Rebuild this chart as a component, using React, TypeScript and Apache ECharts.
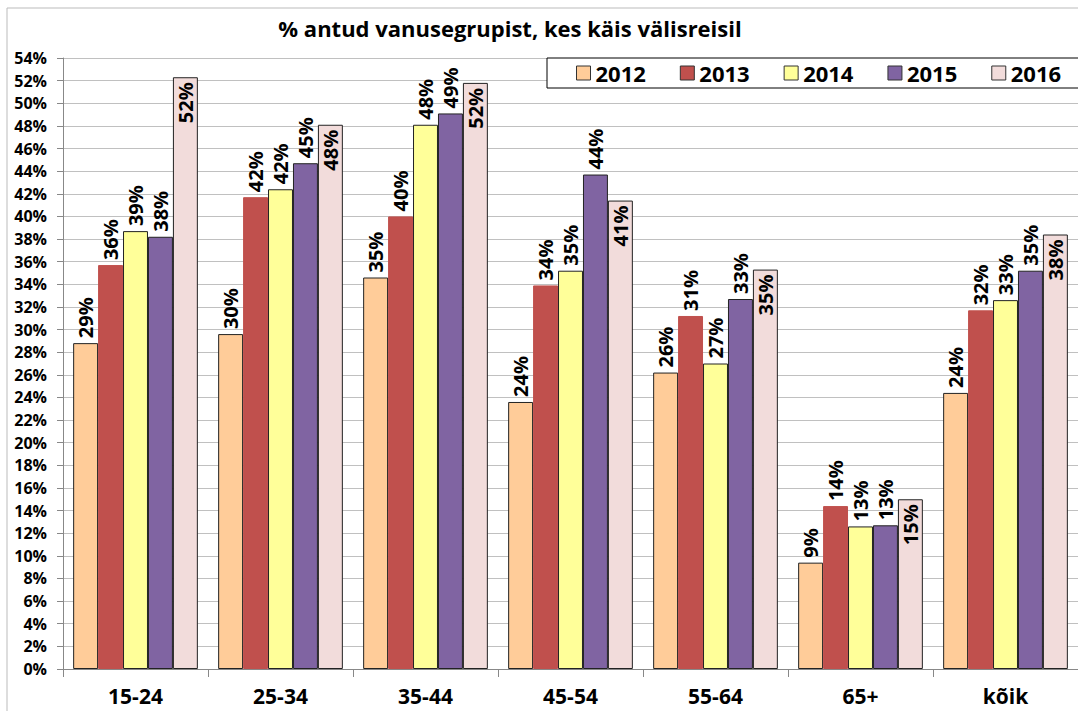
import React, { useEffect, useRef } from "react";
import * as echarts from "echarts";

const categories = ["15-24", "25-34", "35-44", "45-54", "55-64", "65+", "kõik"];
const years = ["2012", "2013", "2014", "2015", "2016"];
const v2012 = [28.8, 29.6, 34.6, 23.6, 26.2, 9.4, 24.4];
const v2013 = [35.7, 41.7, 40.0, 33.9, 31.2, 14.4, 31.7];
const v2014 = [38.7, 42.4, 48.1, 35.2, 27.0, 12.6, 32.6];
const v2015 = [38.2, 44.7, 49.1, 43.7, 32.7, 12.7, 35.2];
const v2016 = [52.3, 48.1, 51.8, 41.4, 35.3, 15.0, 38.4];
const seriesValues = [v2012, v2013, v2014, v2015, v2016];
const colors = ["#FFCC99", "#C0504D", "#FFFF99", "#8064A2", "#F2DCDB"];
const title = "% antud vanusegrupist, kes käis välisreisil";

const FONT = "'Open Sans', Lato, sans-serif";

export default function App() {
  const ref = useRef<HTMLDivElement>(null);
  useEffect(() => {
    if (!ref.current) return;
    const chart = echarts.init(ref.current, undefined, { renderer: "svg" });
    const series = years.map((y, i) => {
      const inside = i === 4;
      return {
        name: y,
        type: "bar",
        data: seriesValues[i],
        barGap: "0%",
        barCategoryGap: "14%",
        itemStyle: {
          color: colors[i],
          borderColor: i === 1 ? colors[i] : "#222",
          borderWidth: 1,
        },
        label: {
          show: true,
          position: inside ? "insideTop" : "top",
          rotate: 90,
          align: inside ? "right" : "left",
          verticalAlign: "middle",
          distance: 5,
          formatter: (p: any) => Math.round(p.value) + "%",
          color: "#000",
          fontFamily: FONT,
          fontWeight: "bold",
          fontSize: 20,
        },
      };
    });
    chart.setOption({
      animation: false,
      title: {
        text: title,
        left: 505,
        textAlign: "center",
        top: 12,
        textStyle: { fontFamily: FONT, fontWeight: "bold", fontSize: 22, color: "#000" },
      },
      legend: {
        data: years,
        left: 547,
        top: 58,
        width: 540,
        padding: [4, 22, 4, 29],
        itemGap: 34,
        itemWidth: 14,
        itemHeight: 14,
        icon: "rect",
        borderColor: "#000",
        borderWidth: 1,
        backgroundColor: "#fff",
        itemStyle: { borderColor: "#333", borderWidth: 1 },
        textStyle: { fontFamily: FONT, fontWeight: "bold", fontSize: 22, color: "#000" },
      },
      graphic: [
        {
          type: "polyline",
          shape: { points: [[7, 711], [7, 8], [1078, 8]] },
          style: { stroke: "#bbb", lineWidth: 1, fill: "none" },
          silent: true,
        },
      ],
      grid: { left: 63, top: 58, width: 1022, height: 611, containLabel: false },
      xAxis: {
        type: "category",
        data: categories,
        axisLine: { lineStyle: { color: "#888", width: 1 } },
        axisTick: { show: true, length: 8, lineStyle: { color: "#888" } },
        axisLabel: {
          margin: 16,
          color: "#000",
          fontFamily: FONT,
          fontWeight: "bold",
          fontSize: 21,
        },
      },
      yAxis: {
        type: "value",
        min: 0,
        max: 54,
        interval: 2,
        axisLine: { show: true, lineStyle: { color: "#888", width: 1 } },
        axisTick: { show: true, length: 6, lineStyle: { color: "#888" } },
        splitLine: { lineStyle: { color: "#c0c0c0", width: 1 } },
        axisLabel: {
          formatter: (v: number) => v + "%",
          margin: 16,
          color: "#000",
          fontFamily: FONT,
          fontWeight: "bold",
          fontSize: 16,
        },
      },
      series,
    });
    return () => chart.dispose();
  }, []);
  return (
    <div
      ref={ref}
      style={{ position: "fixed", left: 0, top: 0, width: 1078, height: 711, background: "#fff" }}
    />
  );
}
